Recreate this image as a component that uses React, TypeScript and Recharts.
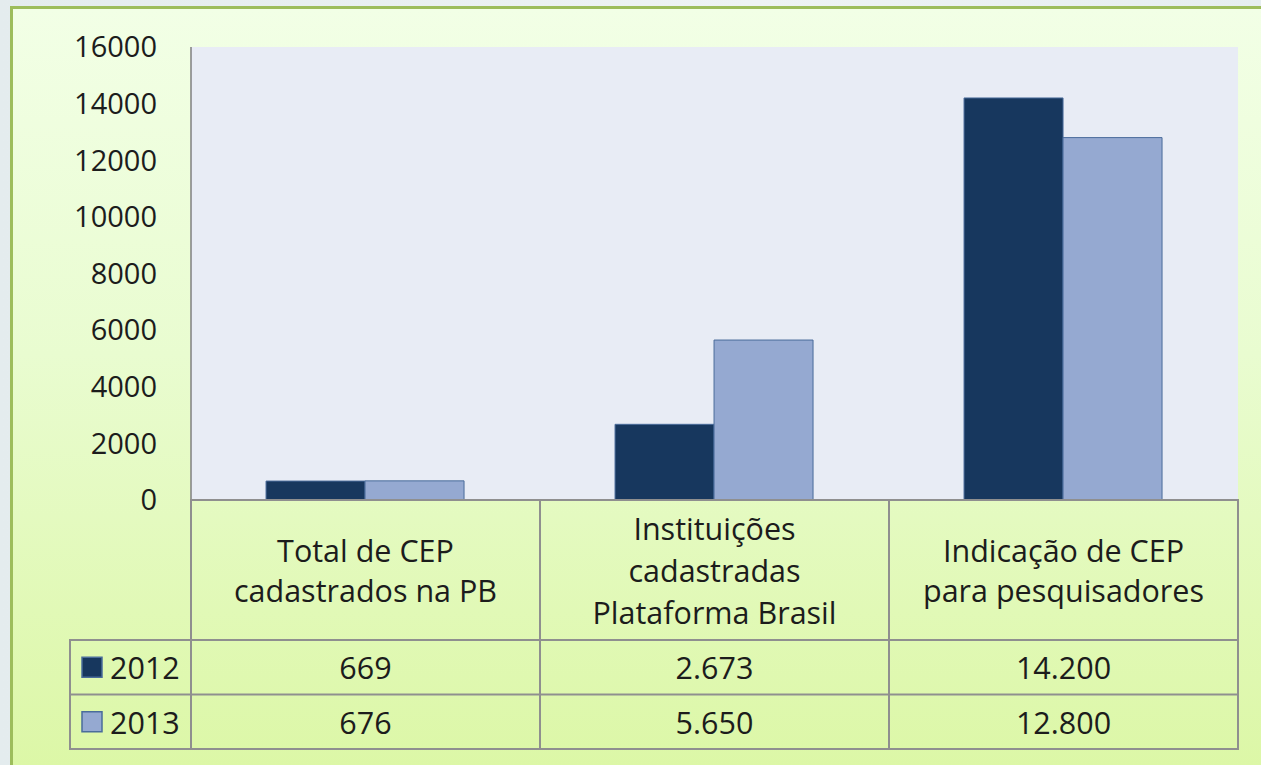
import { BarChart, Bar, XAxis, YAxis, CartesianGrid } from "recharts";

const categories = [
  "Total de CEP\ncadastrados na PB",
  "Instituições\ncadastradas\nPlataforma Brasil",
  "Indicação de CEP\npara pesquisadores",
];
const years = ["2012", "2013"];
const values2012 = [669, 2673, 14200];
const values2013 = [676, 5650, 12800];
const labels2012 = ["669", "2.673", "14.200"];
const labels2013 = ["676", "5.650", "12.800"];
const yTicks = [0, 2000, 4000, 6000, 8000, 10000, 12000, 14000, 16000];

const WIDTH = 1261;
const HEIGHT = 765;
const Y_AXIS_W = 191;
const MARGIN = { top: 47, right: 23, bottom: 16, left: 0 };
const TABLE_H = 249;
const HEADER_H = 140;
const ROW_H = 54.5;
const LEGEND_W = 121;
const COL_W = (WIDTH - Y_AXIS_W - MARGIN.right) / categories.length;

const DARK = "#17375E";
const LIGHT = "#95A9D1";
const GRID = "#8F8F8F";
const FONT = "'Open Sans', sans-serif";
const TEXT = "#1c1c1c";

const data = categories.map((c, i) => ({
  name: c,
  y2012: values2012[i],
  y2013: values2013[i],
  l2012: labels2012[i],
  l2013: labels2013[i],
}));

function TableTick(props: any) {
  const { x, y, payload, index } = props;
  const left = x - COL_W / 2;
  const lines: string[] = payload.value.split("\n");
  const lh = lines.length > 2 ? 42 : 40;
  const mid = y + HEADER_H / 2;
  const row = data[index];
  const r1 = y + HEADER_H;
  const r2 = r1 + ROW_H;
  const r3 = r2 + ROW_H;
  return (
    <g fontFamily={FONT} fontSize={30.5} fill={TEXT}>
      <rect x={left} y={y} width={COL_W} height={r3 - y} fill="none" stroke={GRID} strokeWidth={2} />
      <line x1={left} x2={left + COL_W} y1={r1} y2={r1} stroke={GRID} strokeWidth={2} />
      <line x1={left} x2={left + COL_W} y1={r2} y2={r2} stroke={GRID} strokeWidth={2} />
      {lines.map((t, i) => (
        <text
          key={i}
          x={x}
          y={mid + (i - (lines.length - 1) / 2) * lh}
          textAnchor="middle"
          dominantBaseline="central"
        >
          {t}
        </text>
      ))}
      <text x={x} y={r1 + ROW_H / 2} textAnchor="middle" dominantBaseline="central">
        {row.l2012}
      </text>
      <text x={x} y={r2 + ROW_H / 2} textAnchor="middle" dominantBaseline="central">
        {row.l2013}
      </text>
      {index === 0 && (
        <g>
          <rect x={left - LEGEND_W} y={r1} width={LEGEND_W} height={r3 - r1} fill="none" stroke={GRID} strokeWidth={2} />
          <line x1={left - LEGEND_W} x2={left} y1={r2} y2={r2} stroke={GRID} strokeWidth={2} />
          {years.map((yr, i) => (
            <g key={yr}>
              <rect
                x={left - LEGEND_W + 12}
                y={r1 + i * ROW_H + ROW_H / 2 - 10}
                width={20}
                height={20}
                fill={i === 0 ? DARK : LIGHT}
                stroke="#4A6C9B"
                strokeWidth={1.5}
              />
              <text x={left - LEGEND_W + 40} y={r1 + i * ROW_H + ROW_H / 2} dominantBaseline="central">
                {yr}
              </text>
            </g>
          ))}
        </g>
      )}
    </g>
  );
}

export default function App() {
  return (
    <div
      style={{
        position: "absolute",
        left: 0,
        top: 0,
        width: WIDTH,
        height: HEIGHT,
        overflow: "hidden",
        background: "linear-gradient(90deg, #E4ECEE, #EEF3F4 60%, #E6EEF0)",
      }}
    >
      <div
        style={{
          position: "absolute",
          left: 10,
          top: 6,
          width: WIDTH,
          height: HEIGHT,
          borderTop: "3px solid #9DBD5C",
          borderLeft: "3px solid #9DBD5C",
          background: "linear-gradient(180deg, #F2FFE6 0%, #E9FCD0 45%, #DCF7A6 100%)",
        }}
      />
      <div style={{ position: "absolute", left: 0, top: 0 }}>
        <BarChart
          width={WIDTH}
          height={HEIGHT}
          data={data}
          margin={MARGIN}
          barCategoryGap="21.5%"
          barGap={0}
        >
          <CartesianGrid horizontal={false} vertical={false} fill="#E8ECF5" stroke="none" />
          <XAxis
            dataKey="name"
            height={TABLE_H}
            axisLine={false}
            tickLine={false}
            tickSize={0}
            tickMargin={0}
            interval={0}
            tick={<TableTick />}
          />
          <YAxis
            width={Y_AXIS_W}
            domain={[0, 16000]}
            ticks={yTicks}
            interval={0}
            tickLine={false}
            tickSize={0}
            tickMargin={34}
            axisLine={{ stroke: "#7F7F7F", strokeWidth: 1.5 }}
            tick={{ fill: TEXT, fontSize: 29, fontFamily: FONT }}
          />
          <Bar dataKey="y2012" fill={DARK} stroke="#4A6C9B" strokeWidth={1} isAnimationActive={false} />
          <Bar dataKey="y2013" fill={LIGHT} stroke="#4A6C9B" strokeWidth={1} isAnimationActive={false} />
        </BarChart>
      </div>
    </div>
  );
}
